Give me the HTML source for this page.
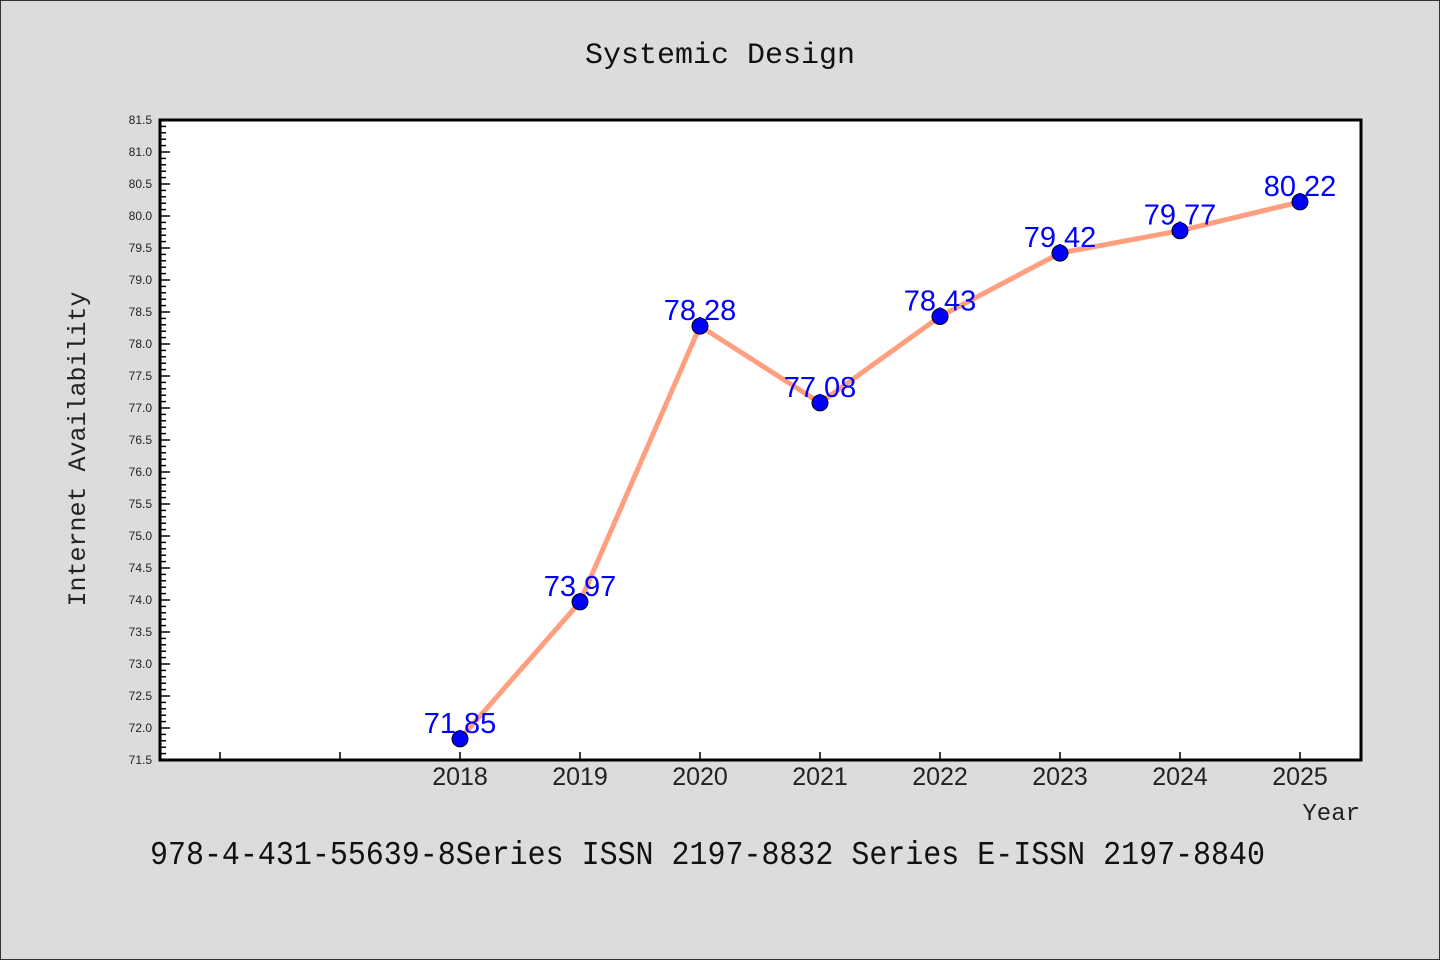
<!DOCTYPE html>
<html><head><meta charset="utf-8"><style>
body{margin:0;background:#dcdcdc;}
svg{display:block}
</style></head><body>
<svg id="chart" width="1440" height="960" xmlns="http://www.w3.org/2000/svg">
<rect x="0.5" y="0.5" width="1439" height="959" fill="#dcdcdc" stroke="#333" stroke-width="1"/>
<text x="720" y="63" text-anchor="middle" font-family="Liberation Mono, monospace" font-size="30" fill="#111">Systemic Design</text>
<rect x="160" y="120" width="1201" height="640" fill="#fff"/>
<g id="axes"></g>
<g id="series"></g>
<rect x="160" y="120" width="1201" height="640" fill="none" stroke="#000" stroke-width="3"/>
<text transform="translate(85,449) rotate(-90)" text-anchor="middle" font-family="Liberation Mono, monospace" font-size="25" fill="#222">Internet Availability</text>
<text x="1360" y="820" text-anchor="end" font-family="Liberation Mono, monospace" font-size="24" fill="#222">Year</text>
<text x="150" y="864" textLength="1115" lengthAdjust="spacingAndGlyphs" font-family="Liberation Mono, monospace" font-size="33" fill="#111">978-4-431-55639-8Series ISSN 2197-8832 Series E-ISSN 2197-8840</text>
</svg>
<script>
const years = [2018, 2019, 2020, 2021, 2022, 2023, 2024, 2025];
const values = [71.83, 73.97, 78.28, 77.08, 78.43, 79.42, 79.77, 80.22];
const valueLabels = ["71.85", "73.97", "78.28", "77.08", "78.43", "79.42", "79.77", "80.22"];
const xTickYears = [2016, 2017, 2018, 2019, 2020, 2021, 2022, 2023, 2024, 2025];
const yMin = 71.5, yMax = 81.5;
const NS = "http://www.w3.org/2000/svg";
function x(v){ return 160 + (v - 2015.5) * 120; }
function y(v){ return 760 - (v - yMin) * 64; }
function mk(tag, attrs, parent){ const e=document.createElementNS(NS,tag); for(const k in attrs) e.setAttribute(k,attrs[k]); parent.appendChild(e); return e; }
const axes=document.getElementById('axes'), series=document.getElementById('series');
for(let i=0;i<=100;i++){
  const v=yMin+i*0.1, yy=y(v), major=i%5===0;
  const t=mk('line',{x1:160,x2:major?170:166,y1:yy,y2:yy,stroke:'#000','stroke-width':1.5},axes);
  
  
  if(major){
    const l=mk('text',{x:152,y:yy+4,'text-anchor':'end','font-family':'Liberation Sans, sans-serif','font-size':12,fill:'#222'},axes);
    l.textContent=v.toFixed(1);
    
    
  }
}
xTickYears.forEach(yr=>{
  const t=mk('line',{x1:x(yr),x2:x(yr),y1:760,y2:752,stroke:'#000','stroke-width':1.5},axes);
  
  
  if(years.includes(yr)){
    const l=mk('text',{x:x(yr),y:785,'text-anchor':'middle','font-family':'Liberation Sans, sans-serif','font-size':25,fill:'#222'},axes);
    l.textContent=String(yr);
    
    
  }
});
const pts=years.map((yr,i)=>x(yr)+','+y(values[i])).join(' ');
const line=mk('polyline',{points:pts,fill:'none',stroke:'#ff9f7f','stroke-width':5,'stroke-linejoin':'round'},series);


years.forEach((yr,i)=>{
  const c=mk('circle',{cx:x(yr),cy:y(values[i]),r:8,fill:'#0000ff',stroke:'#000','stroke-width':1},series);
  
  
});
years.forEach((yr,i)=>{
  const l=mk('text',{x:x(yr),y:y(values[i])-6,'text-anchor':'middle','font-family':'Liberation Sans, sans-serif','font-size':29,fill:'#0000ff'},series);
  l.textContent=valueLabels[i];
  
  
});
</script>
</body></html>
